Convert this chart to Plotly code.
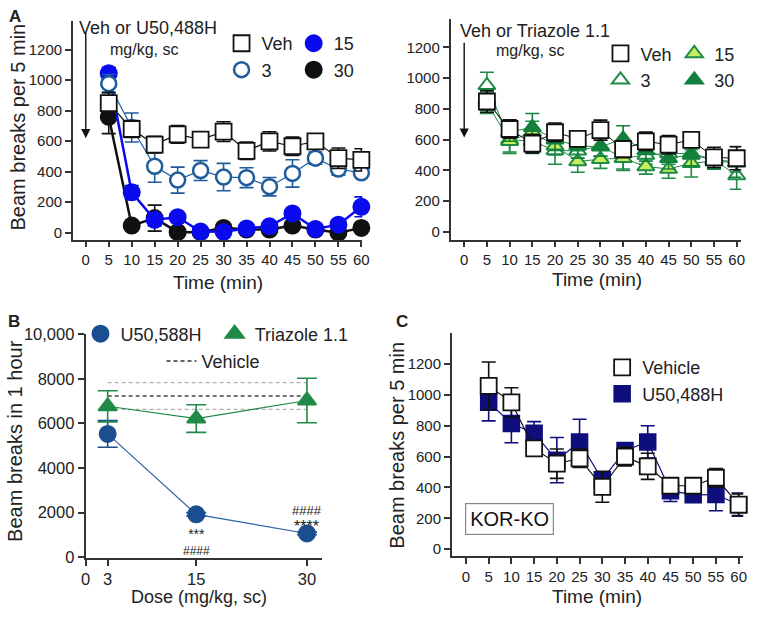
import plotly.graph_objects as go

W, H = 762, 632
FONT = "Arial, Liberation Sans, Helvetica, sans-serif"

# ---------------- data ----------------
time_min = [5, 10, 15, 20, 25, 30, 35, 40, 45, 50, 55, 60]
time_ticks = [0, 5, 10, 15, 20, 25, 30, 35, 40, 45, 50, 55, 60]
beam_ticks = [0, 200, 400, 600, 800, 1000, 1200]

# Panel A (left): U50,488H
a_veh = [850, 680, 578, 645, 610, 663, 537, 599, 567, 599, 489, 478]
a_veh_sem = [70, 55, 55, 58, 35, 65, 57, 63, 60, 50, 67, 73]
a_u3 = [977, 690, 436, 345, 408, 365, 361, 302, 389, 489, 418, 393]
a_u3_sem = [60, 95, 105, 85, 65, 90, 65, 60, 90, 40, 40, 20]
a_u15 = [1045, 265, 85, 102, 8, 6, 28, 42, 127, 25, 53, 170]
a_u15_sem = [40, 45, 40, 20, 10, 10, 10, 15, 20, 10, 15, 65]
a_u30 = [760, 47, 96, 4, 4, 32, 21, 21, 47, 21, 0, 32]
a_u30_sem = [110, 10, 85, 5, 5, 10, 5, 5, 10, 5, 10, 10]

# Panel A (right): Triazole 1.1
t_veh = [848, 669, 574, 648, 605, 662, 538, 589, 567, 599, 485, 479]
t_veh_sem = [70, 60, 60, 60, 50, 65, 55, 60, 60, 45, 65, 75]
t_3 = [953, 600, 590, 530, 527, 560, 479, 500, 510, 510, 470, 367]
t_3_sem = [85, 90, 80, 90, 90, 70, 80, 60, 70, 80, 60, 90]
t_15 = [840, 590, 650, 560, 458, 473, 479, 426, 409, 447, 460, 450]
t_15_sem = [70, 70, 70, 60, 70, 60, 70, 50, 60, 90, 50, 60]
t_30 = [860, 650, 680, 600, 560, 553, 605, 530, 479, 500, 470, 455]
t_30_sem = [70, 60, 90, 70, 80, 60, 85, 70, 70, 70, 60, 100]

# Panel B: totals in 1 hour
dose = [3, 15, 30]
dose_ticks = [0, 3, 15, 30]
total_ticks = [0, 2000, 4000, 6000, 8000, 10000]
total_ticklabels = ["0", "2000", "4000", "6000", "8000", "10,000"]
b_u50 = [5530, 1920, 1063]
b_u50_sem = [600, 80, 60]
b_tri = [6770, 6220, 7030]
b_tri_sem = [700, 620, 1000]
b_veh_mean = 7230
b_veh_sem = 600
b_sig_15 = ["***", "####"]   # upper, lower
b_sig_30 = ["####", "****"]  # upper, lower

# Panel C: KOR-KO
c_veh = [1059, 952, 653, 554, 589, 404, 600, 537, 411, 411, 463, 288]
c_veh_sem = [155, 95, 40, 95, 60, 100, 60, 85, 40, 20, 60, 70]
c_u50 = [952, 815, 752, 577, 695, 450, 640, 695, 379, 352, 354, 288]
c_u50_sem = [120, 125, 75, 147, 147, 30, 40, 105, 70, 40, 105, 75]

# ---------------- styles ----------------
BLACK = "#111111"
U3_COL = "#1f5c9c"
U15_COL = "#0a0aee"
TRI_COL = "#1f8b47"
TRI15_FILL = "#c4ee5c"
TRI30_FILL = "#13803c"
B_U_COL = "#1b4e90"
C_U_COL = "#0e0e7c"
DASH = "4px,3px"


def px_x(p):
    return p / W


def px_y(p):
    return 1 - p / H


fig = go.Figure()


def series(x, y, err, xa, ya, symbol, size, fill, edge, lw, lcol, mlw=2, cap=7):
    fig.add_trace(go.Scatter(
        x=x, y=y, xaxis=xa, yaxis=ya, mode="lines+markers",
        line=dict(color=lcol, width=lw),
        marker=dict(symbol=symbol, size=size, color=fill,
                    line=dict(color=edge, width=mlw)),
        error_y=dict(type="data", array=err, visible=True, color=edge,
                     thickness=1.6, width=cap),
        cliponaxis=False, showlegend=False, hoverinfo="skip"))


def legend_entry(name, legend, symbol, size, fill, edge, mlw=2):
    fig.add_trace(go.Scatter(
        x=[None], y=[None], mode="markers", name=name, legend=legend,
        marker=dict(symbol=symbol, size=size, color=fill,
                    line=dict(color=edge, width=mlw)),
        showlegend=True, xaxis="x", yaxis="y"))


# Panel A left
series(time_min, a_u30, a_u30_sem, "x", "y", "circle", 16, BLACK, BLACK, 2.5, BLACK)
series(time_min, a_u15, a_u15_sem, "x", "y", "circle", 16, U15_COL, U15_COL, 2.5, U15_COL)
series(time_min, a_u3, a_u3_sem, "x", "y", "circle", 15, "white", U3_COL, 1.2, U3_COL, mlw=2.5)
series(time_min, a_veh, a_veh_sem, "x", "y", "square", 16, "white", BLACK, 1.2, BLACK, mlw=1.8)

# Panel A right
series(time_min, t_3, t_3_sem, "x2", "y2", "triangle-up", 15, "white", TRI_COL, 1.0, TRI_COL, mlw=2)
series(time_min, t_15, t_15_sem, "x2", "y2", "triangle-up", 15, TRI15_FILL, TRI_COL, 1.0, TRI_COL, mlw=2)
series(time_min, t_30, t_30_sem, "x2", "y2", "triangle-up", 15, TRI30_FILL, TRI30_FILL, 1.0, TRI_COL, mlw=2)
series(time_min, t_veh, t_veh_sem, "x2", "y2", "square", 16, "white", BLACK, 1.0, BLACK, mlw=1.8)

# Panel B vehicle band
for val, col, w in [(b_veh_mean + b_veh_sem, "#b0b0b0", 1.3),
                    (b_veh_mean - b_veh_sem, "#b0b0b0", 1.3),
                    (b_veh_mean, "#444444", 1.6)]:
    fig.add_trace(go.Scatter(x=[dose[0], dose[-1]], y=[val, val], xaxis="x3", yaxis="y3",
                             mode="lines", line=dict(color=col, width=w, dash=DASH),
                             showlegend=False, hoverinfo="skip"))
series(dose, b_u50, b_u50_sem, "x3", "y3", "circle", 16, B_U_COL, B_U_COL, 1.2, "#2f62a6", cap=10)
series(dose, b_tri, b_tri_sem, "x3", "y3", "triangle-up", 16, TRI_COL, TRI_COL, 1.2, TRI_COL, cap=10)

# Panel C
series(time_min, c_u50, c_u50_sem, "x4", "y4", "square", 16, C_U_COL, C_U_COL, 1.2, C_U_COL, mlw=1.5)
series(time_min, c_veh, c_veh_sem, "x4", "y4", "square", 16, "white", BLACK, 1.2, BLACK, mlw=1.8)

# ---------------- legends ----------------
legend_entry("Veh", "legend", "square", 16, "white", BLACK, 1.8)
legend_entry("3", "legend", "circle", 15, "white", U3_COL, 2.5)
legend_entry("15", "legend2", "circle", 16, U15_COL, U15_COL)
legend_entry("30", "legend2", "circle", 16, BLACK, BLACK)
legend_entry("Veh", "legend3", "square", 16, "white", BLACK, 1.8)
legend_entry("3", "legend3", "triangle-up", 15, "white", TRI_COL, 2)
legend_entry("15", "legend4", "triangle-up", 15, TRI15_FILL, TRI_COL, 2)
legend_entry("30", "legend4", "triangle-up", 15, TRI30_FILL, TRI30_FILL, 2)
legend_entry("U50,588H", "legend5", "circle", 16, B_U_COL, B_U_COL)
legend_entry("Triazole 1.1", "legend6", "triangle-up", 16, TRI_COL, TRI_COL)
fig.add_trace(go.Scatter(x=[None], y=[None], mode="lines", name="Vehicle", legend="legend7",
                         line=dict(color="#333333", width=1.6, dash=DASH),
                         xaxis="x", yaxis="y"))
legend_entry("Vehicle", "legend8", "square", 16, "white", BLACK, 1.8)
legend_entry("U50,488H", "legend8", "square", 16, C_U_COL, C_U_COL, 1.5)


def leg(sym_px, top_px):
    return dict(x=px_x(sym_px - 20), y=px_y(top_px), xanchor="left", yanchor="top",
                bgcolor="rgba(0,0,0,0)", font=dict(size=18, family=FONT, color="#222"),
                tracegroupgap=0, itemsizing="trace")


# ---------------- axes ----------------
TICKFONT = dict(size=15, family=FONT, color="#222")
ax_common = dict(showline=True, linecolor="#333", linewidth=1.6, ticks="outside",
                 ticklen=6, tickwidth=1.5, tickcolor="#333", showgrid=False,
                 zeroline=False)

layout = dict(
    width=W, height=H, margin=dict(l=0, r=0, t=0, b=0),
    plot_bgcolor="white", paper_bgcolor="white",
    font=dict(family=FONT, color="#222"),
    xaxis=dict(domain=[px_x(69), px_x(363)], range=[-2.8, 60.2], tickvals=time_ticks,
               anchor="y", tickfont=TICKFONT, **ax_common),
    yaxis=dict(domain=[px_y(237), px_y(12)], range=[-45, 1390], tickvals=beam_ticks,
               anchor="x", tickfont=TICKFONT, **ax_common),
    xaxis2=dict(domain=[px_x(452.7), px_x(748)], range=[-3.0, 61.0], tickvals=time_ticks,
                anchor="y2", tickfont=TICKFONT, **ax_common),
    yaxis2=dict(domain=[px_y(237), px_y(10)], range=[-50, 1386], tickvals=beam_ticks,
                anchor="x2", tickfont=TICKFONT, **ax_common),
    xaxis3=dict(domain=[px_x(81.8), px_x(321.8)], range=[0, 32], tickvals=dose_ticks,
                anchor="y3", tickfont=dict(size=16.5, family=FONT, color="#222"), **ax_common),
    yaxis3=dict(domain=[px_y(564), px_y(333.6)], range=[-30, 10030], tickvals=total_ticks,
                ticktext=total_ticklabels, anchor="x3",
                tickfont=dict(size=16.5, family=FONT, color="#222"), **ax_common),
    xaxis4=dict(domain=[px_x(454), px_x(750)], range=[-3.1, 61.0], tickvals=time_ticks,
                anchor="y4", tickfont=TICKFONT, **ax_common),
    yaxis4=dict(domain=[px_y(562.3), px_y(333.3)], range=[-46, 1400], tickvals=beam_ticks,
                anchor="x4", tickfont=TICKFONT, **ax_common),
    legend=leg(240, 16.5),
    legend2=leg(313.3, 16.5),
    legend3=leg(625, 27),
    legend4=leg(700, 27),
    legend5=leg(96.7, 315),
    legend6=leg(233, 315),
    legend7=leg(179, 343),
    legend8=leg(626.7, 349.5),
)
fig.update_layout(**layout)


def ptext(text, xp, yp, size, xanchor="center", angle=0, bold=False):
    fig.add_annotation(text=f"<b>{text}</b>" if bold else text, x=px_x(xp), y=px_y(yp),
                       xref="paper", yref="paper", showarrow=False, xanchor=xanchor,
                       yanchor="middle", textangle=angle,
                       font=dict(size=size, family=FONT, color="#222"))


# panel letters
ptext("A", 2, 8, 17, xanchor="left", bold=True)
ptext("B", 1, 321, 17, xanchor="left", bold=True)
ptext("C", 395, 321, 17, xanchor="left", bold=True)

# axis titles
ptext("Beam breaks per 5 min", 13, 121, 20, angle=-90)
ptext("Beam breaks in 1 hour", 10, 444, 20, angle=-90)
ptext("Beam breaks per 5 min", 398, 448, 20, angle=-90)
ptext("Time (min)", 216.7, 281, 19)
ptext("Time (min)", 601.7, 278, 19)
ptext("Dose (mg/kg, sc)", 196.7, 604, 18)
ptext("Time (min)", 601.7, 604, 19)

# treatment text
ptext("Veh or U50,488H", 73, 20, 18, xanchor="left")
ptext("mg/kg, sc", 105, 42, 16, xanchor="left")
ptext("Veh or Triazole 1.1", 460, 23, 18, xanchor="left")
ptext("mg/kg, sc", 497, 43, 16, xanchor="left")

# injection arrows
fig.add_annotation(x=0, y=620, ax=0, ay=1320, xref="x", yref="y", axref="x", ayref="y",
                   text="", showarrow=True, arrowhead=2, arrowsize=1.3, arrowwidth=1.4,
                   arrowcolor="#111")
fig.add_annotation(x=0, y=614, ax=0, ay=1240, xref="x2", yref="y2", axref="x2", ayref="y2",
                   text="", showarrow=True, arrowhead=2, arrowsize=1.3, arrowwidth=1.4,
                   arrowcolor="#111")


# significance marks: one two-line text per dose
def span(txt, star_size, hash_size):
    fs = star_size if "*" in txt else hash_size
    return f'<span style="font-size:{fs}px">{txt}</span>'


def sig(pair, xv, yv, base, star_size, hash_size):
    fig.add_annotation(text=span(pair[0], star_size, hash_size) + "<br>" +
                       span(pair[1], star_size, hash_size), x=xv, y=yv,
                       xref="x3", yref="y3", showarrow=False, yanchor="middle",
                       borderpad=0, font=dict(size=base, family=FONT, color="#222"))


sig(b_sig_15, dose[1], 668, 12, 14, 12)
sig(b_sig_30, dose[2], 1716, 13.4, 16, 13)

# KOR-KO box
fig.add_annotation(text="KOR-KO", x=px_x(512.5), y=px_y(524.5), xref="paper", yref="paper",
                   showarrow=False, xanchor="center", yanchor="middle",
                   font=dict(size=20, family=FONT, color="#111"),
                   bordercolor="#888", borderwidth=1.2, borderpad=4, bgcolor="white")

fig.write_html("out.html")
